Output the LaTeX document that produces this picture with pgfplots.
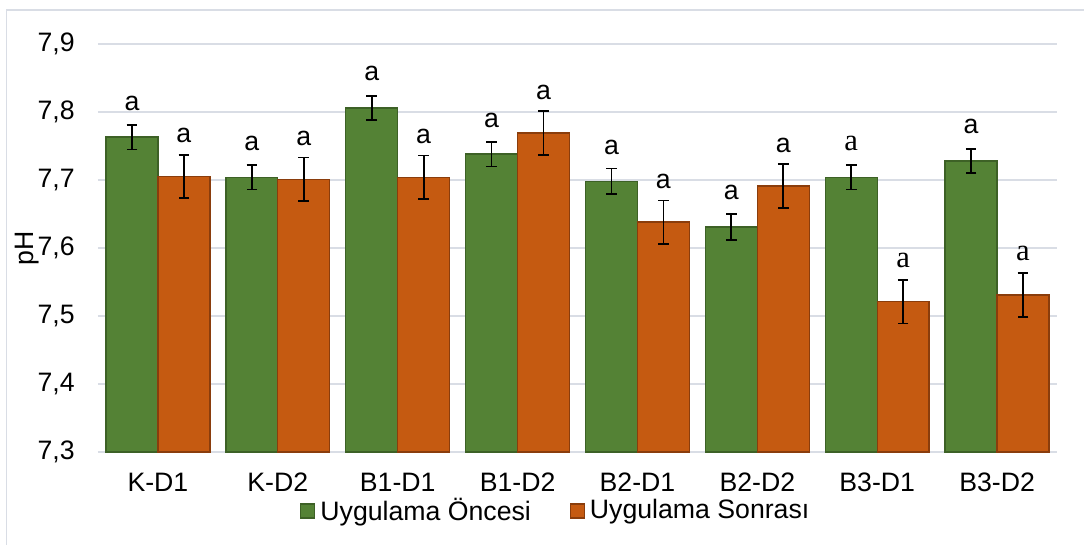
\documentclass[border=0pt]{standalone}
\usepackage{pgfplots}
\pgfplotsset{compat=1.18}
\usepackage{fontspec}
\setmainfont{Liberation Sans}
\newfontfamily\serifa{Liberation Serif}
\definecolor{grn}{HTML}{548235}
\definecolor{grnd}{HTML}{3D6126}
\definecolor{org}{HTML}{C55A11}
\definecolor{orgd}{HTML}{8A3D0C}
\definecolor{gridc}{HTML}{D9DDE5}
\def\sS{s}
\def\lab{\edef\tmp{\pgfplotspointmeta}\ifx\tmp\sS{\serifa\fontsize{23}{24}\selectfont a}\else a\fi}
\pgfplotstableread{
x y e m
0 7.763 0.018 n
1 7.704 0.018 n
2 7.806 0.018 n
3 7.738 0.018 n
4 7.698 0.019 n
5 7.631 0.019 n
6 7.704 0.018 s
7 7.728 0.018 n
}\green
\pgfplotstableread{
x y e m
0 7.705 0.032 n
1 7.701 0.032 n
2 7.704 0.032 n
3 7.769 0.032 n
4 7.638 0.032 n
5 7.691 0.032 n
6 7.521 0.032 s
7 7.531 0.032 s
}\orange
\begin{document}
\fontsize{20}{24}\selectfont
\begin{tikzpicture}
\useasboundingbox (0,0) rectangle (813pt,-408.75pt);
\draw[gridc, line width=0.8pt] (4.9pt,-408.75pt) |- (813pt,-7.5pt);
\begin{axis}[
 at={(73.5pt,-339pt)}, anchor=south west,
 scale only axis, width=719.25pt, height=306pt,
 ybar=0pt, bar width=0.433,
 xmin=-0.5, xmax=7.5, ymin=7.3, ymax=7.9,
 ytick={7.3,7.4,7.5,7.6,7.7,7.8,7.9},
 xtick={0,1,2,3,4,5,6,7},
 xticklabels={K-D1,K-D2,B1-D1,B1-D2,B2-D1,B2-D2,B3-D1,B3-D2},
 ymajorgrids, grid style={gridc, line width=1pt},
 axis x line*=bottom, axis y line*=left,
 y axis line style={draw=none},
 x axis line style={gridc, line width=1pt, -},
 major tick length=0pt, tick style={draw=none},
 /pgf/number format/assume math mode=true,
 yticklabel style={/pgf/number format/.cd, use comma, fixed, fixed zerofill, precision=1, /tikz/.cd, anchor=east, inner sep=0pt, xshift=-17.25pt},
 xticklabel style={anchor=north, inner sep=0pt, yshift=-15.75pt},
 ylabel={pH},
 ylabel style={at={(axis description cs:-0.074,0.5)}, anchor=center, inner sep=0pt},
 legend style={at={(axis description cs:0.479,-0.1446)}, anchor=center, draw=none, fill=none,
   legend columns=2, /tikz/every even column/.append style={column sep=25pt},
   inner sep=0pt, nodes={inner sep=4pt}},
 legend cell align=left,
]
\addplot[fill=grn, draw=grnd, line width=1pt,
  point meta=explicit symbolic,
  nodes near coords={\lab},
  every node near coord/.append style={anchor=base, inner sep=0pt, yshift=20.25pt, black},
  legend image code/.code={\draw[fill=grn, draw=grnd, line width=0.8pt] (0pt,-5.25pt) rectangle (10.5pt,5.25pt);},
  error bars/.cd, y dir=both, y explicit,
  error bar style={black, line width=1.3pt},
  error mark options={black, line width=1.3pt, mark size=4pt, rotate=90}]
  table[x=x, y=y, y error=e, meta=m]{\green};
\addplot[fill=org, draw=orgd, line width=1pt,
  point meta=explicit symbolic,
  nodes near coords={\lab},
  every node near coord/.append style={anchor=base, inner sep=0pt, yshift=25.5pt, black},
  legend image code/.code={\draw[fill=org, draw=orgd, line width=0.8pt] (0pt,-5.25pt) rectangle (10.5pt,5.25pt);},
  error bars/.cd, y dir=both, y explicit,
  error bar style={black, line width=1.3pt},
  error mark options={black, line width=1.3pt, mark size=4pt, rotate=90}]
  table[x=x, y=y, y error=e, meta=m]{\orange};
\legend{Uygulama Öncesi, Uygulama Sonrası}
\end{axis}
\end{tikzpicture}
\end{document}
